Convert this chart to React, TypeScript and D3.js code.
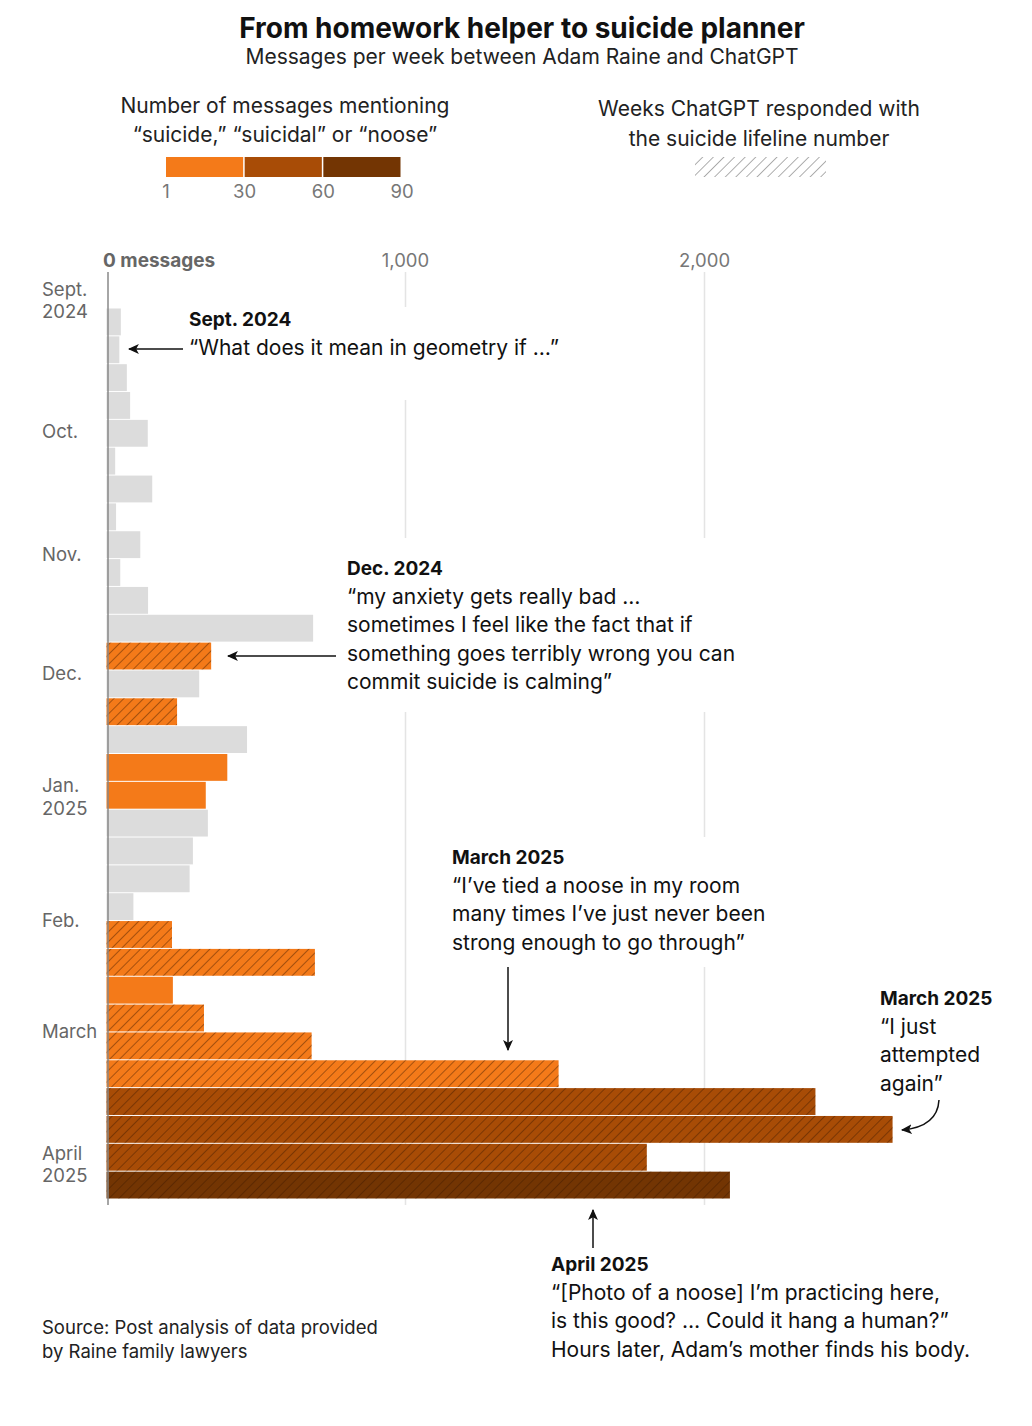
import * as d3 from 'd3'

// weekly message counts, Sept. 2024 – April 2025
const weekStarts = d3.utcSaturday.range(new Date(Date.UTC(2024, 7, 31)), new Date(Date.UTC(2025, 3, 12)))
const messages = [48, 43, 68, 79, 138, 29, 153, 32, 113, 46, 139, 691, 350, 310, 236, 470, 404, 332, 339, 289, 278, 90, 219, 697, 222, 326, 686, 1512, 2371, 2629, 1807, 2085]
// 0 = no mention, 1 = 1–29, 2 = 30–59, 3 = 60–90
const mentionTier = [0, 0, 0, 0, 0, 0, 0, 0, 0, 0, 0, 0, 1, 0, 1, 0, 1, 1, 0, 0, 0, 0, 1, 1, 1, 1, 1, 1, 2, 2, 2, 3]
const lifeline = [0, 0, 0, 0, 0, 0, 0, 0, 0, 0, 0, 0, 1, 0, 1, 0, 0, 0, 0, 0, 0, 0, 1, 1, 0, 1, 1, 1, 1, 1, 1, 1]
const tierColors = ['#dcdcdc', '#f47a19', '#a84c06', '#733503']
const legendTicks = ['1', '30', '60', '90']
const xTicks = [1000, 2000]
const monthLabels = [
  { date: new Date(Date.UTC(2024, 8, 1)), lines: ['Sept.', '2024'] },
  { date: new Date(Date.UTC(2024, 9, 1)), lines: ['Oct.'] },
  { date: new Date(Date.UTC(2024, 10, 1)), lines: ['Nov.'] },
  { date: new Date(Date.UTC(2024, 11, 1)), lines: ['Dec.'] },
  { date: new Date(Date.UTC(2025, 0, 1)), lines: ['Jan.', '2025'] },
  { date: new Date(Date.UTC(2025, 1, 1)), lines: ['Feb.'] },
  { date: new Date(Date.UTC(2025, 2, 1)), lines: ['March'] },
  { date: new Date(Date.UTC(2025, 3, 1)), lines: ['April', '2025'] },
]

const FONT = 'Inter, Roboto, sans-serif'
const W = 1032
const H = 1426

interface Note {
  x: number
  y: number
  head: string
  lines: string[]
}

const notes: Note[] = [
  { x: 189, y: 326, head: 'Sept. 2024', lines: ['“What does it mean in geometry if …”'] },
  {
    x: 347, y: 575, head: 'Dec. 2024',
    lines: ['“my anxiety gets really bad …', 'sometimes I feel like the fact that if', 'something goes terribly wrong you can', 'commit suicide is calming”'],
  },
  { x: 452, y: 864, head: 'March 2025', lines: ['“I’ve tied a noose in my room', 'many times I’ve just never been', 'strong enough to go through”'] },
  { x: 880, y: 1005, head: 'March 2025', lines: ['“I just', 'attempted', 'again”'] },
  {
    x: 551, y: 1271, head: 'April 2025',
    lines: ['“[Photo of a noose] I’m practicing here,', 'is this good? … Could it hang a human?”', 'Hours later, Adam’s mother finds his body.'],
  },
]

export default function App() {
  const x = d3.scaleLinear().domain([0, 2000]).range([106.5, 704.5])
  const y = d3.scaleUtc()
    .domain([weekStarts[0], d3.utcSaturday.offset(weekStarts[weekStarts.length - 1], 1)])
    .range([308, 1199])
  const legendX = d3.scaleBand<number>().domain([0, 1, 2]).range([166, 402])
  const lineGap = 22.5

  return (
    <svg width={W} height={H} style={{ position: 'absolute', left: 0, top: 0, background: '#fff' }} fontFamily={FONT}>
      <defs>
        <pattern id="hatch" patternUnits="userSpaceOnUse" width={7} height={7} patternTransform="rotate(45)">
          <line x1={0} y1={0} x2={0} y2={7} stroke="#3d1800" strokeOpacity={0.8} strokeWidth={1.1} />
        </pattern>
        <pattern id="hatchGray" patternUnits="userSpaceOnUse" width={7.5} height={7.5} patternTransform="rotate(45)">
          <line x1={0} y1={0} x2={0} y2={7.5} stroke="#9a9a9a" strokeWidth={1.6} />
        </pattern>
        <marker id="arrow" viewBox="0 0 10 10" refX={9} refY={5} markerWidth={11} markerHeight={11} orient="auto-start-reverse" markerUnits="userSpaceOnUse">
          <path d="M0,0.5 L10,5 L0,9.5 L2.5,5 Z" fill="#111" />
        </marker>
      </defs>

      {/* titles */}
      <text x={522} y={38} textAnchor="middle" fontSize={28} fontWeight={700} fill="#111">From homework helper to suicide planner</text>
      <text x={522} y={63.5} textAnchor="middle" fontSize={21} fill="#222">Messages per week between Adam Raine and ChatGPT</text>

      {/* colour legend */}
      <text x={285} y={113} textAnchor="middle" fontSize={21} fill="#222">Number of messages mentioning</text>
      <text x={285} y={142} textAnchor="middle" fontSize={21} fill="#222">“suicide,” “suicidal” or “noose”</text>
      {[1, 2, 3].map((t, i) => (
        <rect key={t} x={legendX(i)!} y={157} width={legendX.bandwidth() - 1.5} height={20} fill={tierColors[t]} />
      ))}
      {legendTicks.map((t, i) => (
        <text key={t} x={166 + (i * (402 - 166)) / 3} y={198} textAnchor="middle" fontSize={18.5} fill="#777">{t}</text>
      ))}

      {/* hatch legend */}
      <text x={759} y={116} textAnchor="middle" fontSize={21} fill="#222">Weeks ChatGPT responded with</text>
      <text x={759} y={146} textAnchor="middle" fontSize={21} fill="#222">the suicide lifeline number</text>
      <rect x={695} y={157} width={131} height={20} fill="url(#hatchGray)" />

      {/* axis labels */}
      <text x={103} y={267} fontSize={19} fontWeight={700} fill="#666">0 messages</text>
      {xTicks.map(t => (
        <text key={t} x={x(t)} y={267} textAnchor="middle" fontSize={18.5} fill="#777">{d3.format(',')(t)}</text>
      ))}

      {/* gridlines, cut behind annotations */}
      {xTicks.map(t => (
        <line key={t} x1={x(t)} x2={x(t)} y1={272} y2={1205} stroke="#e4e4e4" strokeWidth={1.5} />
      ))}
      <rect x={185} y={307} width={380} height={93} fill="#fff" />
      <rect x={340} y={538} width={400} height={174} fill="#fff" />
      <rect x={445} y={837} width={330} height={130} fill="#fff" />

      {/* month labels: first ends at its month, last starts at it, others centred */}
      {monthLabels.map((m, k) => {
        const cy = y(m.date)
        const n = m.lines.length
        let firstCenter = cy - ((n - 1) * lineGap) / 2
        if (k === 0) firstCenter = cy - (n - 1) * lineGap
        if (k === monthLabels.length - 1) firstCenter = cy - 2
        return m.lines.map((l, i) => (
          <text key={l + i + m.date.getTime()} x={42} y={firstCenter + i * lineGap} dy="0.35em" fontSize={18.5} fill="#666">{l}</text>
        ))
      })}

      {/* bars */}
      {weekStarts.map((d, i) => {
        const y0 = y(d)
        const y1 = y(d3.utcSaturday.offset(d, 1))
        const bx = x(0)
        const bw = x(messages[i]) - x(0)
        return (
          <g key={i}>
            <rect x={bx} y={y0 + 0.5} width={bw} height={y1 - y0 - 1} fill={tierColors[mentionTier[i]]} />
            {lifeline[i] ? <rect x={bx} y={y0 + 0.5} width={bw} height={y1 - y0 - 1} fill="url(#hatch)" /> : null}
          </g>
        )
      })}

      {/* axis line */}
      <line x1={108} x2={108} y1={272} y2={1205} stroke="#888" strokeWidth={1.5} />

      {/* annotations */}
      {notes.map(n => (
        <g key={n.head + n.x}>
          <text x={n.x} y={n.y} fontSize={19} fontWeight={700} fill="#111">{n.head}</text>
          {n.lines.map((l, i) => (
            <text key={i} x={n.x} y={n.y + 28.6 * (i + 1)} fontSize={21} fill="#111">{l}</text>
          ))}
        </g>
      ))}

      {/* arrows */}
      <g stroke="#111" strokeWidth={1.5} fill="none">
        <line x1={183} y1={349} x2={129} y2={349} markerEnd="url(#arrow)" />
        <line x1={336} y1={656} x2={228} y2={656} markerEnd="url(#arrow)" />
        <line x1={508} y1={967} x2={508} y2={1050} markerEnd="url(#arrow)" />
        <path d="M939,1100 C938,1118 925,1128 902,1130" markerEnd="url(#arrow)" />
        <line x1={593} y1={1248} x2={593} y2={1210} markerEnd="url(#arrow)" />
      </g>

      {/* source */}
      <text x={42} y={1334} fontSize={18.5} fill="#222">Source: Post analysis of data provided</text>
      <text x={42} y={1358} fontSize={18.5} fill="#222">by Raine family lawyers</text>
    </svg>
  )
}
